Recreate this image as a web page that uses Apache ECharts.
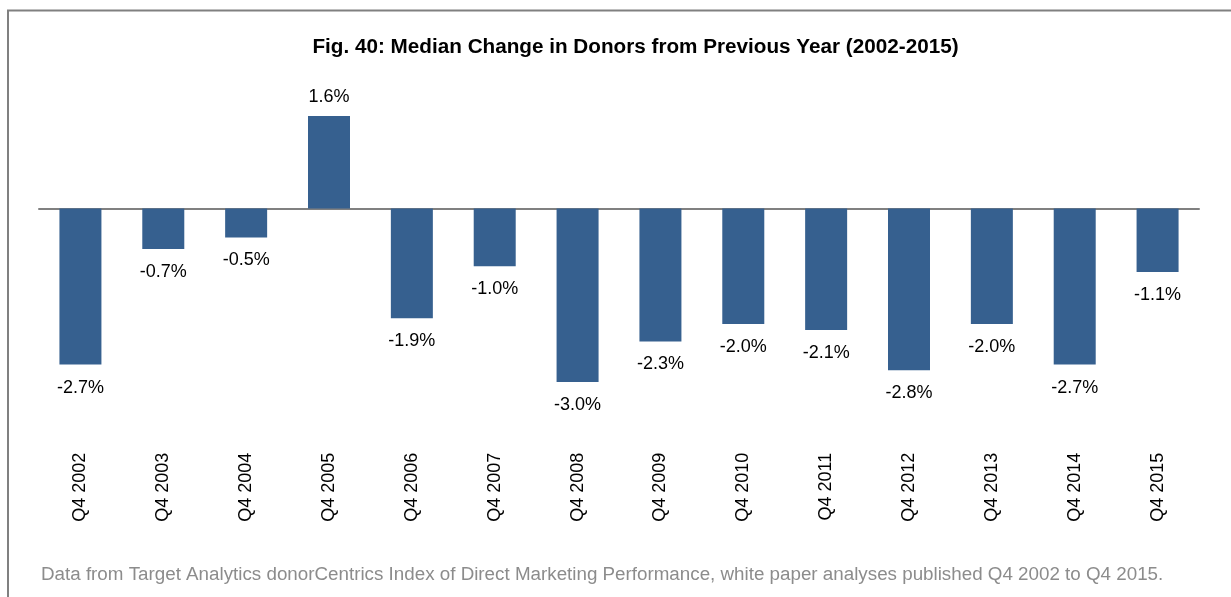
<!DOCTYPE html>
<html>
<head>
<meta charset="utf-8">
<script src="https://cdn.jsdelivr.net/npm/echarts@6/dist/echarts.min.js"></script>
<style>html,body{margin:0;padding:0;background:#fff;}#c{width:1231px;height:597px;}</style>
</head>
<body>
<div id="c"></div>
<script>
const categories = ['Q4 2002','Q4 2003','Q4 2004','Q4 2005','Q4 2006','Q4 2007','Q4 2008','Q4 2009','Q4 2010','Q4 2011','Q4 2012','Q4 2013','Q4 2014','Q4 2015'];
const values = [-2.7, -0.7, -0.5, 1.6, -1.9, -1.0, -3.0, -2.3, -2.0, -2.1, -2.8, -2.0, -2.7, -1.1];
const titleText = 'Fig. 40: Median Change in Donors from Previous Year (2002-2015)';
const footerText = 'Data from Target Analytics donorCentrics Index of Direct Marketing Performance, white paper analyses published Q4 2002 to Q4 2015.';

const font = '"Liberation Sans", Arial, sans-serif';
const chart = echarts.init(document.getElementById('c'), null, {renderer: 'canvas'});
chart.setOption({
  animation: false,
  backgroundColor: '#fff',
  title: [
    {text: titleText, left: 635.5, top: 37, textAlign: 'center', padding: 0,
     textStyle: {fontFamily: font, fontSize: 20.7, fontWeight: 'bold', color: '#000'}},
    {text: footerText, left: 41, top: 565, padding: 0,
     textStyle: {fontFamily: font, fontSize: 18.8, fontWeight: 'normal', color: '#8c8c8c'}}
  ],
  graphic: [{
    type: 'rect', silent: true,
    shape: {x: 8, y: 10.5, width: 1300, height: 700},
    style: {fill: 'none', stroke: '#808080', lineWidth: 2}
  }],
  grid: {left: 39, right: 32, top: 92.9, bottom: 157.3, containLabel: false},
  xAxis: [
    {type: 'category', data: categories, axisLine: {onZero: true, lineStyle: {color: '#808080', width: 2}},
     axisTick: {show: false}, axisLabel: {show: false}},
    {type: 'category', data: categories, position: 'bottom', axisLine: {show: false, onZero: false},
     axisTick: {show: false},
     axisLabel: {rotate: 90, margin: 13, fontFamily: font, fontSize: 18, color: '#000', interval: 0}}
  ],
  yAxis: {type: 'value', min: -4, max: 2, show: false, splitLine: {show: false}},
  series: [{
    type: 'bar', barWidth: 42, xAxisIndex: 0,
    itemStyle: {color: '#36608F'},
    data: values.map(v => ({
      value: v,
      label: {position: v >= 0 ? 'top' : 'bottom', distance: v >= 0 ? 10 : 14}
    })),
    label: {show: true, fontFamily: font, fontSize: 18, color: '#000',
      formatter: p => p.value.toFixed(1) + '%'}
  }]
});
</script>
</body>
</html>
